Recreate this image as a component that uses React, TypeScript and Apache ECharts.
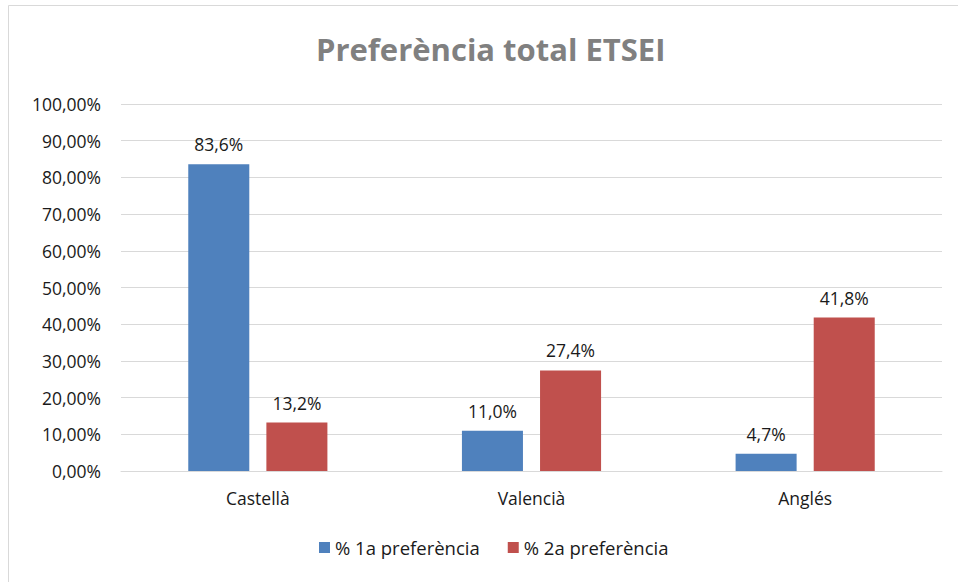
import React, { useEffect, useRef } from "react";
import * as echarts from "echarts";

const categories = ["Castellà", "Valencià", "Anglés"];
const seriesNames = ["% 1a preferència", "% 2a preferència"];
const first = [83.6, 11.0, 4.7];
const second = [13.2, 27.4, 41.8];
const colors = ["#4F81BD", "#C0504D"];

const FONT = "'Open Sans', 'Noto Sans', sans-serif";
const FS = 17.5;

export default function App() {
  const ref = useRef<HTMLDivElement>(null);
  useEffect(() => {
    const chart = echarts.init(ref.current!, null, { renderer: "svg" });
    const label = {
      show: true,
      position: "top",
      distance: 11,
      color: "#1a1a1a",
      fontFamily: FONT,
      fontSize: FS,
      formatter: (p: any) => p.value.toFixed(1).replace(".", ",") + "%",
    };
    chart.setOption({
      animation: false,
      backgroundColor: "#fff",
      title: {
        text: "Preferència total ETSEI",
        left: 311,
        top: 28,
        textStyle: { fontFamily: FONT, fontSize: 31, fontWeight: "bold", color: "#808080" },
      },
      graphic: [
        {
          type: "rect",
          shape: { x: 8.5, y: 5.5, width: 1000, height: 1000 },
          style: { fill: "none", stroke: "#d9d9d9", lineWidth: 1 },
          silent: true,
        },
      ],
      legend: {
        bottom: 20,
        left: 314,
        itemWidth: 11,
        itemHeight: 11,
        itemGap: 28,
        icon: "rect",
        textStyle: { fontFamily: FONT, fontSize: 18.5, color: "#1a1a1a" },
        data: seriesNames,
      },
      grid: { left: 121, right: 16, top: 104, bottom: 111, containLabel: false },
      xAxis: {
        type: "category",
        data: categories,
        axisLine: { lineStyle: { color: "#d9d9d9", width: 1 } },
        axisTick: { show: false },
        axisLabel: { fontFamily: FONT, fontSize: FS, color: "#1a1a1a", margin: 18 },
      },
      yAxis: {
        type: "value",
        min: 0,
        max: 100,
        interval: 10,
        axisLine: { show: false },
        axisTick: { show: false },
        splitLine: { lineStyle: { color: "#d9d9d9", width: 1 } },
        axisLabel: {
          fontFamily: FONT,
          fontSize: FS,
          color: "#1a1a1a",
          margin: 20,
          formatter: (v: number) => v.toFixed(2).replace(".", ",") + "%",
        },
      },
      series: [
        {
          name: seriesNames[0],
          type: "bar",
          data: first,
          barWidth: "22.3%",
          barGap: "28%",
          itemStyle: { color: colors[0] },
          label,
        },
        {
          name: seriesNames[1],
          type: "bar",
          data: second,
          barWidth: "22.3%",
          itemStyle: { color: colors[1] },
          label,
        },
      ],
    });
    return () => chart.dispose();
  }, []);
  return (
    <div
      ref={ref}
      style={{ position: "fixed", left: 0, top: 0, width: 958, height: 582 }}
    />
  );
}
